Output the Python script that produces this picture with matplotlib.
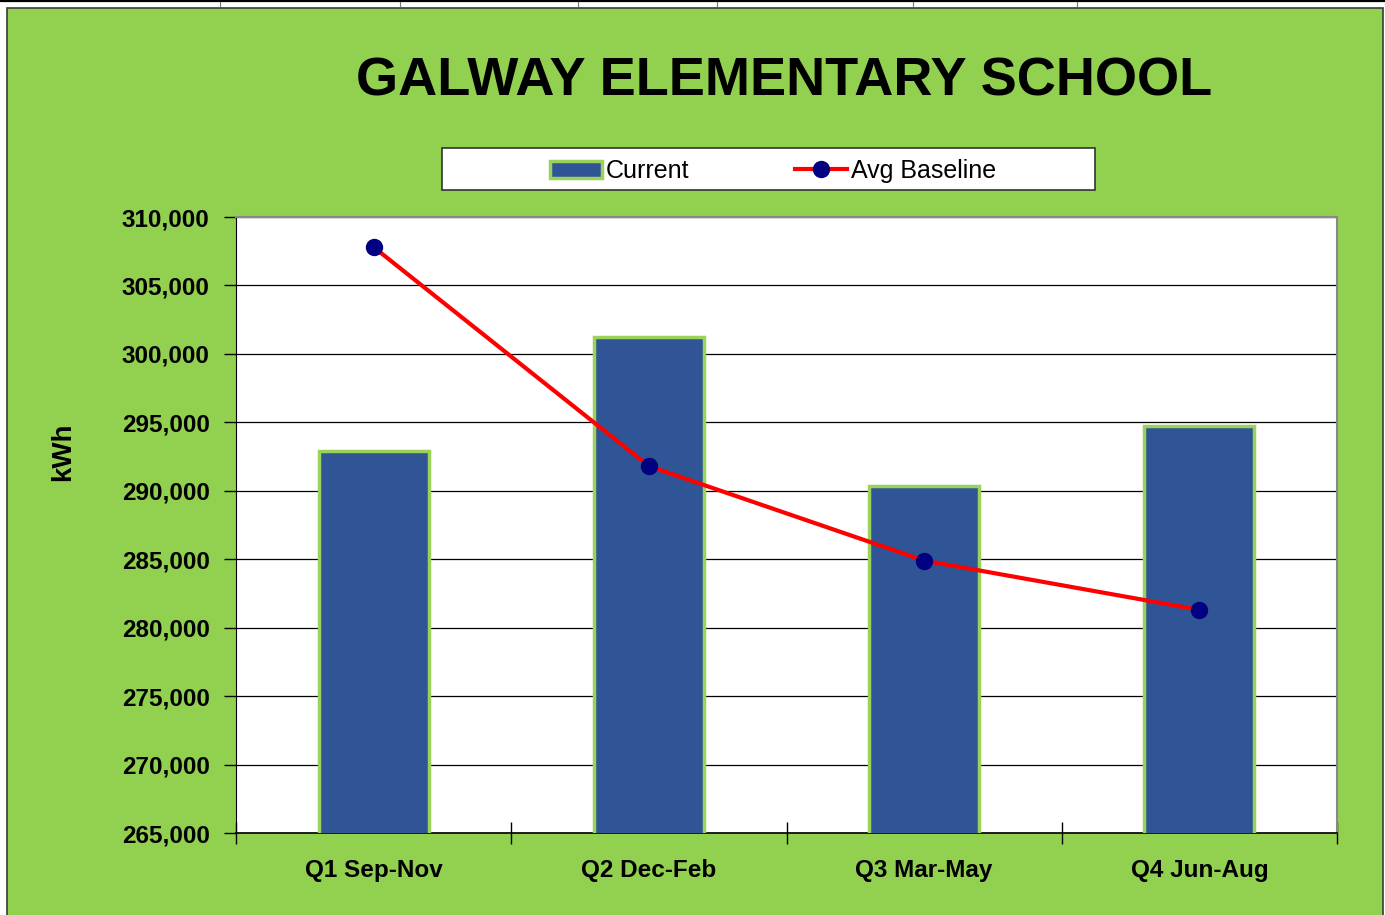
import matplotlib.pyplot as plt
from matplotlib.patches import Rectangle
from matplotlib.lines import Line2D
from matplotlib.ticker import FuncFormatter

# data
quarters = ["Q1 Sep-Nov", "Q2 Dec-Feb", "Q3 Mar-May", "Q4 Jun-Aug"]
current_kwh = [292900, 301200, 290350, 294700]
baseline_kwh = [307800, 291800, 284900, 281300]
y_ticks = list(range(265000, 310001, 5000))

GREEN = "#92D050"
BAR_BLUE = "#2F5597"
FONT = "Liberation Sans"

W, H = 1385, 915
fig = plt.figure(figsize=(W / 100, H / 100), dpi=100, facecolor="white")

# spreadsheet artefacts along the top edge
fig.add_artist(Line2D([0, 1], [1 - 1 / H, 1 - 1 / H], color="black", lw=1.6,
                      transform=fig.transFigure))
for mx in [220, 400, 578, 717, 913, 1077]:
    fig.add_artist(Line2D([mx / W, mx / W], [1 - 2 / H, 1 - 6 / H], color="#777777",
                          lw=0.8, transform=fig.transFigure))

# green chart area
fig.add_artist(Rectangle((7 / W, -0.01), 1376 / W, 1 - 8 / H + 0.01,
                         transform=fig.transFigure, facecolor=GREEN,
                         edgecolor="#3a3a3a", lw=1.2, zorder=0))

ax = fig.add_axes([236 / W, 1 - 833 / H, (1337 - 236) / W, (833 - 217) / H])
ax.set_facecolor("white")

x = list(range(len(quarters)))
bars = ax.bar(x, current_kwh, width=0.4, color=BAR_BLUE, edgecolor="#9BD35A",
              linewidth=2.5, zorder=3, label="Current")
line, = ax.plot(x, baseline_kwh, color="#FF0000", lw=3, marker="o", markersize=11.5,
                markerfacecolor="#000080", markeredgecolor="#000080", zorder=4,
                label="Avg Baseline")

ax.set_xlim(-0.5, len(quarters) - 0.5)
ax.set_ylim(265000, 310000)
ax.set_yticks(y_ticks)
ax.yaxis.set_major_formatter(FuncFormatter(lambda v, p: f"{int(v):,}"))
ax.grid(axis="y", color="black", lw=0.9, zorder=1)
ax.set_axisbelow(True)

ax.set_xticks(x)
ax.set_xticklabels(quarters)
ax.set_xticks([i - 0.5 for i in range(len(quarters) + 1)], minor=True)
ax.tick_params(axis="x", which="major", length=0, pad=19)
ax.tick_params(axis="x", which="minor", direction="inout", length=16, width=1)
ax.tick_params(axis="y", direction="out", length=9, width=1, pad=10)
for lbl in ax.get_xticklabels() + ax.get_yticklabels():
    lbl.set_fontweight("bold")
    lbl.set_fontfamily(FONT)
    lbl.set_fontsize(17.5)

ax.spines["left"].set_color("black")
ax.spines["bottom"].set_color("black")
ax.spines["bottom"].set_linewidth(1.2)
ax.spines["top"].set_color("#888888")
ax.spines["right"].set_color("#888888")
ax.spines["top"].set_linewidth(1.5)
ax.spines["right"].set_linewidth(1.5)

fig.text(63 / W, 1 - 452 / H, "kWh", rotation=90, ha="center", va="center",
         fontsize=20, fontweight="bold", family=FONT)

fig.text(784 / W, 1 - 81 / H, "GALWAY ELEMENTARY SCHOOL", ha="center", va="center",
         fontsize=39, fontweight="bold", family=FONT)

# legend box
fig.add_artist(Rectangle((442 / W, 1 - 190 / H), (1095 - 442) / W, 42 / H,
                         transform=fig.transFigure, facecolor="white",
                         edgecolor="#333333", lw=1.2, zorder=2))
leg = fig.legend([bars, line], ["Current", "Avg Baseline"], loc="center",
                 bbox_to_anchor=(773 / W, 1 - 171 / H), ncol=2, frameon=False,
                 handlelength=2.1, handletextpad=0.15, columnspacing=4.2,
                 prop={"family": FONT, "size": 18})
leg.set_zorder(3)

fig.savefig("out.png", dpi=100, facecolor="white")
